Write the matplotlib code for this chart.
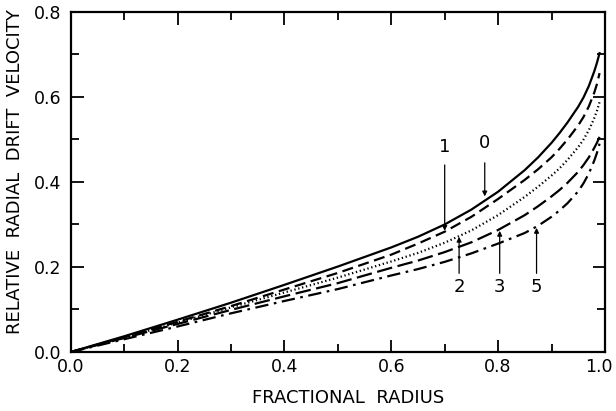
import numpy as np
import matplotlib.pyplot as plt
import matplotlib.transforms as mtransforms
from matplotlib.ticker import MultipleLocator, FormatStrFormatter

# Radio fraccional (lecturas de la figura)
radio = [0.0, 0.1, 0.2, 0.3, 0.4, 0.5, 0.6, 0.65, 0.7, 0.75, 0.8, 0.85, 0.875, 0.9,
         0.915, 0.93, 0.95, 0.96, 0.97, 0.98, 0.985, 0.99]

# Velocidad de deriva radial relativa para cada curva
v0 = [0.0, 0.037, 0.076, 0.116, 0.158, 0.201, 0.246, 0.271, 0.300, 0.335, 0.377, 0.428, 0.458, 0.492,
      0.515, 0.540, 0.577, 0.599, 0.626, 0.660, 0.680, 0.703]
v1 = [0.0, 0.035, 0.071, 0.108, 0.147, 0.186, 0.229, 0.255, 0.283, 0.318, 0.360, 0.405, 0.430, 0.458,
      0.478, 0.500, 0.533, 0.553, 0.578, 0.610, 0.630, 0.656]
v2 = [0.0, 0.034, 0.069, 0.105, 0.140, 0.175, 0.213, 0.233, 0.257, 0.286, 0.322, 0.365, 0.389, 0.415,
      0.432, 0.452, 0.482, 0.500, 0.522, 0.550, 0.567, 0.588]
v3 = [0.0, 0.033, 0.066, 0.099, 0.131, 0.162, 0.198, 0.215, 0.235, 0.258, 0.287, 0.322, 0.343, 0.366,
      0.381, 0.398, 0.424, 0.440, 0.458, 0.480, 0.492, 0.506]
v5 = [0.0, 0.030, 0.060, 0.091, 0.120, 0.148, 0.180, 0.195, 0.212, 0.232, 0.255, 0.280, 0.297, 0.318,
      0.333, 0.350, 0.378, 0.397, 0.420, 0.450, 0.468, 0.490]

# Etiquetas de las curvas: (texto, x flecha, y texto, y inicio, y punta)
etiquetas = [
    ('0', 0.775, 0.47, 0.445, 0.366),
    ('1', 0.700, 0.46, 0.440, 0.285),
    ('2', 0.727, 0.155, 0.185, 0.271),
    ('3', 0.803, 0.155, 0.185, 0.285),
    ('5', 0.872, 0.155, 0.185, 0.292),
]

plt.rcParams['font.family'] = 'DejaVu Sans'

fig = plt.figure(figsize=(6.16, 4.11), dpi=100)
ax = fig.add_axes([0.115, 0.1436, 0.867, 0.8274])

lw = 1.6
ax.plot(radio, v0, color='black', lw=lw, linestyle='-')
ax.plot(radio, v1, color='black', lw=lw, linestyle=(0, (5, 2.5)))
ax.plot(radio, v2, color='black', lw=lw, linestyle=(0, (0.6, 1.2)))
ax.plot(radio, v3, color='black', lw=lw, linestyle=(0, (7, 2.5)))
ax.plot(radio, v5, color='black', lw=lw, linestyle=(0, (6, 2.5, 1.2, 2.5)))

for txt, xa, yt, y0, y1 in etiquetas:
    ax.annotate('', xy=(xa, y1), xytext=(xa, y0),
                arrowprops=dict(arrowstyle='-|>', color='black', lw=0.9,
                                mutation_scale=7, shrinkA=0, shrinkB=0))
    va = 'bottom' if yt > y0 else 'top'
    ax.text(xa, yt if va == 'bottom' else yt + 0.02, txt, ha='center', va=va,
            fontsize=13)

ax.set_xlim(0, 1.0)
ax.set_ylim(0, 0.8)
ax.xaxis.set_major_locator(MultipleLocator(0.2))
ax.xaxis.set_minor_locator(MultipleLocator(0.1))
ax.yaxis.set_major_locator(MultipleLocator(0.2))
ax.yaxis.set_minor_locator(MultipleLocator(0.1))
ax.xaxis.set_major_formatter(FormatStrFormatter('%.1f'))
ax.yaxis.set_major_formatter(FormatStrFormatter('%.1f'))

ax.tick_params(which='both', direction='in', top=True, right=True, width=1.3)
ax.tick_params(which='major', length=9, labelsize=12.5)
ax.tick_params(which='minor', length=5.5)
ax.tick_params(axis='x', pad=4)
ax.tick_params(axis='y', pad=7)
for sp in ax.spines.values():
    sp.set_linewidth(1.6)

ax.set_xlabel('FRACTIONAL  RADIUS', fontsize=13)
ax.xaxis.set_label_coords(0.52, -0.11)
ax.set_ylabel('RELATIVE  RADIAL  DRIFT  VELOCITY', fontsize=13)
ax.yaxis.set_label_coords(-0.087, 0.53)

# mover un poco la etiqueta 1.0 para que no se corte en el borde
fig.canvas.draw()
desplazar = mtransforms.ScaledTranslation(-4 / 72, 0, fig.dpi_scale_trans)
for tick in ax.xaxis.get_major_ticks():
    if abs(tick.get_loc() - 1.0) < 1e-6:
        tick.label1.set_transform(tick.label1.get_transform() + desplazar)

plt.savefig('out.png', dpi=100)
